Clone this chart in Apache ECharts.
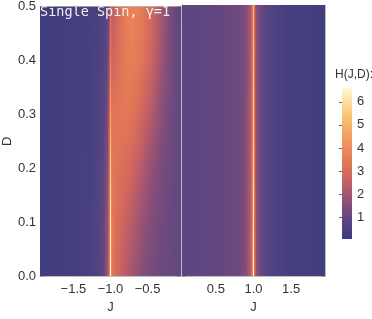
<!DOCTYPE html>
<html>
<head>
<meta charset="utf-8">
<script src="https://cdn.jsdelivr.net/npm/echarts@6/dist/echarts.min.js"></script>
<style>
html,body{margin:0;padding:0;background:#fff}
#chart{width:372px;height:319px}
</style>
</head>
<body>
<div id="chart"></div>
<script>
// ---- data ----
// left panel (J < 0): J sample points, D rows, H(J,D) per row
var jLeft = [-1.95, -1.5, -1.25, -1.1, -1.04, -1.015, -1.005, -1.0, -0.995, -0.985, -0.95, -0.9, -0.8, -0.72, -0.6, -0.45, -0.3, -0.15, -0.05];
var dLeft = [0, 0.1, 0.2, 0.3, 0.4, 0.5];
var hLeft = [
  [0.2, 0.3, 0.45, 0.9, 1.8, 3.2, 5.0, 6.5, 5.2, 3.6, 3.1, 2.8, 2.3, 2.0, 1.6, 1.3, 1.1, 1.0, 0.95],
  [0.2, 0.3, 0.45, 0.85, 1.7, 3.1, 4.9, 6.3, 5.1, 3.6, 3.2, 3.0, 2.6, 2.3, 1.85, 1.45, 1.2, 1.05, 0.95],
  [0.2, 0.3, 0.42, 0.8, 1.5, 2.9, 4.5, 5.6, 4.6, 3.5, 3.3, 3.2, 3.0, 2.8, 2.3, 1.7, 1.3, 1.05, 0.9],
  [0.2, 0.3, 0.4, 0.7, 1.3, 2.6, 3.9, 4.6, 4.0, 3.3, 3.3, 3.35, 3.4, 3.3, 2.9, 2.2, 1.55, 1.1, 0.88],
  [0.2, 0.3, 0.4, 0.65, 1.0, 2.0, 3.2, 3.6, 3.2, 2.8, 2.8, 3.1, 3.5, 3.6, 3.4, 2.7, 1.8, 1.15, 0.85],
  [0.2, 0.3, 0.38, 0.6, 0.9, 1.6, 2.7, 3.0, 2.8, 2.5, 2.5, 2.9, 3.5, 3.8, 3.6, 2.9, 1.9, 1.15, 0.82]
];
// right panel (J > 0)
var jRight = [0.05, 0.5, 0.8, 0.9, 0.96, 0.985, 0.995, 1.0, 1.005, 1.015, 1.04, 1.1, 1.2, 1.35, 1.5, 1.95];
var dRight = [0, 0.5];
var hRight = [
  [0.85, 0.95, 1.15, 1.5, 2.3, 3.5, 5.2, 6.5, 5.0, 3.0, 1.7, 1.0, 0.7, 0.45, 0.32, 0.22],
  [0.85, 0.95, 1.15, 1.45, 2.1, 3.0, 4.3, 5.2, 4.2, 2.6, 1.6, 1.0, 0.7, 0.45, 0.32, 0.22]
];
// tick labels
var jTicksLeft = [-1.5, -1, -0.5];
var jTicksRight = [0.5, 1, 1.5];
var dTicks = [0, 0.1, 0.2, 0.3, 0.4, 0.5];
var barTicks = [1, 2, 3, 4, 5, 6];
var hMin = 0.05, hMax = 6.6;

// ---- style ----
var palette = ['#3a3c7c', '#544482', '#7a4c7c', '#a85670', '#cc6460', '#e17656',
               '#ec8b5c', '#f3a464', '#f9c071', '#fddb98', '#fff7dc'];
var frameColor = '#bdbdbd', tickColor = '#9a9a9a', textColor = '#333';
var font = 'Liberation Sans';

function colorAt(v) {
  var t = (v - hMin) / (hMax - hMin);
  t = Math.max(0, Math.min(1, t));
  return echarts.color.lerp(t, palette);
}
function steps(a, b, st, skip) {
  var out = [];
  for (var i = 0; a + i * st <= b + 1e-9; i++) {
    var v = +(a + i * st).toFixed(4);
    if (skip.indexOf(v) < 0) out.push(v);
  }
  return out;
}
var jMinorLeft = steps(-1.9, -0.1, 0.1, jTicksLeft);
var jMinorRight = steps(0.1, 1.9, 0.1, jTicksRight);
var dMinor = steps(0, 0.5, 0.02, dTicks);

var mapChart = echarts.init(document.getElementById('chart'));

// density panel: thin strips through the axis scales, painted top to bottom,
// each one reaching down to the panel bottom so no seams show
function densityItem(jn, dr, hv) {
  return function (params, api) {
    var xs = jn.map(function (j) { return api.coord([j, 0])[0]; });
    var x0 = xs[0], x1 = xs[xs.length - 1];
    var yBottom = api.coord([jn[0], dr[0]])[1];
    var children = [];
    for (var k = dr.length - 2; k >= 0; k--) {
      var yA = api.coord([jn[0], dr[k]])[1];
      var yB = api.coord([jn[0], dr[k + 1]])[1];
      var n = Math.max(1, Math.ceil(Math.abs(yA - yB) / 1.5));
      for (var s = n - 1; s >= 0; s--) {
        var f = (s + 0.5) / n;
        var stops = [];
        for (var i = 0; i < jn.length; i++) {
          var v = hv[k][i] * (1 - f) + hv[k + 1][i] * f;
          stops.push({offset: (xs[i] - x0) / (x1 - x0), color: colorAt(v)});
          if (i < jn.length - 1) {
            var v2 = hv[k][i + 1] * (1 - f) + hv[k + 1][i + 1] * f;
            stops.push({offset: ((xs[i] + xs[i + 1]) / 2 - x0) / (x1 - x0), color: colorAt((v + v2) / 2)});
          }
        }
        var top = yA + (yB - yA) * (s + 1) / n;
        children.push({
          type: 'rect',
          shape: {x: x0, y: top, width: x1 - x0, height: yBottom - top},
          style: {fill: {type: 'linear', x: 0, y: 0, x2: 1, y2: 0, colorStops: stops}}
        });
      }
    }
    return {type: 'group', children: children};
  };
}

function xAxes(g, min, max, major, minor) {
  var base = {type: 'value', gridIndex: g, min: min, max: max, splitLine: {show: false}};
  var fmt = function (v) { return (v < 0 ? '\u2212' : '') + Math.abs(v).toFixed(1); };
  return [
    Object.assign({}, base, {
      position: 'bottom',
      axisLine: {show: true, onZero: false, lineStyle: {color: frameColor}},
      axisTick: {show: true, inside: true, length: 4, customValues: major, lineStyle: {color: tickColor}},
      axisLabel: {show: true, customValues: major, formatter: fmt, margin: 7, color: textColor, fontSize: 13, fontFamily: font},
      name: 'J', nameLocation: 'middle', nameGap: 25,
      nameTextStyle: {color: textColor, fontSize: 13, fontFamily: font}
    }),
    Object.assign({}, base, {
      position: 'bottom',
      axisLine: {show: false, onZero: false},
      axisTick: {show: true, inside: true, length: 2, customValues: minor, lineStyle: {color: tickColor}},
      axisLabel: {show: false}
    }),
    Object.assign({}, base, {
      position: 'top',
      axisLine: {show: true, onZero: false, lineStyle: {color: frameColor}},
      axisTick: {show: true, inside: true, length: 4, customValues: major, lineStyle: {color: tickColor}},
      axisLabel: {show: false}
    }),
    Object.assign({}, base, {
      position: 'top',
      axisLine: {show: false, onZero: false},
      axisTick: {show: true, inside: true, length: 2, customValues: minor, lineStyle: {color: tickColor}},
      axisLabel: {show: false}
    })
  ];
}

function yAxes(g, withLabels) {
  var base = {type: 'value', gridIndex: g, min: 0, max: 0.5, splitLine: {show: false}};
  var left = Object.assign({}, base, {
    position: 'left',
    axisLine: {show: true, onZero: false, lineStyle: {color: frameColor}},
    axisTick: {show: true, inside: true, length: 4, customValues: dTicks, lineStyle: {color: tickColor}},
    axisLabel: {show: withLabels, customValues: dTicks, margin: 4, color: textColor, fontSize: 13, fontFamily: font,
                formatter: function (v) { return v.toFixed(1); }}
  });
  if (withLabels) {
    left.name = 'D';
    left.nameLocation = 'middle';
    left.nameGap = 26;
    left.nameTextStyle = {color: textColor, fontSize: 13, fontFamily: font};
  }
  return [
    left,
    Object.assign({}, base, {
      position: 'left',
      axisLine: {show: false, onZero: false},
      axisTick: {show: true, inside: true, length: 2, customValues: dMinor, lineStyle: {color: tickColor}},
      axisLabel: {show: false}
    }),
    Object.assign({}, base, {
      position: 'right',
      axisLine: {show: true, onZero: false, lineStyle: {color: frameColor}},
      axisTick: {show: true, inside: true, length: 4, customValues: dTicks, lineStyle: {color: tickColor}},
      axisLabel: {show: false}
    }),
    Object.assign({}, base, {
      position: 'right',
      axisLine: {show: false, onZero: false},
      axisTick: {show: true, inside: true, length: 2, customValues: dMinor, lineStyle: {color: tickColor}},
      axisLabel: {show: false}
    })
  ];
}

var xs = [].concat(
  xAxes(0, -1.95, -0.05, jTicksLeft, jMinorLeft),
  xAxes(1, 0.05, 1.95, jTicksRight, jMinorRight),
  [{type: 'value', gridIndex: 2, min: 0, max: 1, show: false}]
);
var ys = [].concat(
  yAxes(0, true),
  yAxes(1, false),
  [{
    type: 'value', gridIndex: 2, position: 'right', min: hMin, max: hMax,
    axisLine: {show: false},
    axisTick: {show: true, inside: true, length: 3, customValues: barTicks, lineStyle: {color: '#666'}},
    axisLabel: {show: true, customValues: barTicks, margin: 5, color: textColor, fontSize: 13, fontFamily: font},
    splitLine: {show: false}
  }]
);

var option = {
  animation: false,
  backgroundColor: '#fff',
  grid: [
    {left: 38, top: 5, width: 143, height: 273},
    {left: 182, top: 5, width: 143, height: 273},
    {left: 342, top: 88, width: 10, height: 151}
  ],
  xAxis: xs,
  yAxis: ys,
  series: [
    {type: 'custom', xAxisIndex: 0, yAxisIndex: 0, clip: true, silent: true,
     renderItem: densityItem(jLeft, dLeft, hLeft), data: [[0]], z: 1},
    {type: 'custom', xAxisIndex: 4, yAxisIndex: 4, clip: true, silent: true,
     renderItem: densityItem(jRight, dRight, hRight), data: [[0]], z: 1},
    {type: 'custom', xAxisIndex: 8, yAxisIndex: 8, silent: true, data: [[0]],
     renderItem: function (params, api) {
       var p0 = api.coord([0, hMax]), p1 = api.coord([1, hMin]);
       var stops = palette.map(function (c, i) { return {offset: i / (palette.length - 1), color: c}; });
       return {type: 'rect', shape: {x: p0[0], y: p0[1], width: p1[0] - p0[0], height: p1[1] - p0[1]},
               style: {fill: {type: 'linear', x: 0, y: 1, x2: 0, y2: 0, colorStops: stops}}};
     }}
  ],
  graphic: [
    {type: 'text', left: 40, top: 5, z: 100,
     style: {text: 'Single Spin, \u03b3=1', font: '13.5px "DejaVu Sans Mono"', fill: '#f0f0f0'}},
    {type: 'text', left: 335, top: 69, z: 100,
     style: {text: 'H(J,D):', font: '12px "Liberation Sans"', fill: textColor}}
  ]
};

mapChart.setOption(option);
</script>
</body>
</html>
